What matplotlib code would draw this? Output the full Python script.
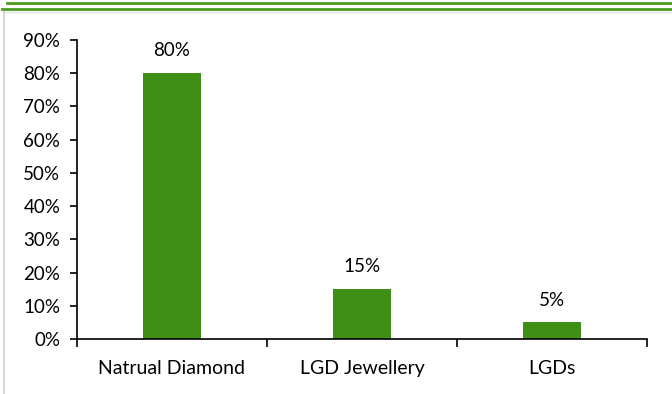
import matplotlib.pyplot as plt
from matplotlib.lines import Line2D
from matplotlib.ticker import FuncFormatter, FixedLocator

categories = ["Natrual Diamond", "LGD Jewellery", "LGDs"]
shares = [80, 15, 5]  # percent

green = "#3f8f17"
plt.rcParams['font.family'] = ['Lato', 'DejaVu Sans']

fig = plt.figure(figsize=(6.72, 3.94), dpi=100)
ax = fig.add_axes([77/672, 55/394, 570/672, 299/394])

x = range(len(categories))
bars = ax.bar(x, shares, width=0.31, color=green, zorder=2)
for b, v in zip(bars, shares):
    ax.annotate(f"{v}%", (b.get_x() + b.get_width()/2, v), xytext=(0, 10),
                textcoords="offset points", ha="center", va="bottom", fontsize=13.5)

ax.set_xlim(-0.5, len(categories) - 0.5)
ax.set_ylim(0, 90)
ax.set_yticks(range(0, 91, 10))
ax.yaxis.set_major_formatter(FuncFormatter(lambda v, p: f"{v:.0f}%"))
ax.set_xticks(list(x))
ax.set_xticklabels(categories)
ax.xaxis.set_minor_locator(FixedLocator([-0.5, 0.5, 1.5, 2.5]))
ax.tick_params(axis="x", which="major", length=0, pad=15, labelsize=14)
ax.tick_params(axis="x", which="minor", length=6, width=1.2, direction="out")
ax.tick_params(axis="y", length=5, width=1.2, labelsize=13.5, pad=7)
for s in ("top", "right"):
    ax.spines[s].set_visible(False)
for s in ("left", "bottom"):
    ax.spines[s].set_linewidth(1.2)

# header rules and light frame
fig.add_artist(Line2D([7/672, 1], [1 - 2.5/394] * 2, color="#4a9a1e", lw=2))
fig.add_artist(Line2D([2/672, 1], [1 - 8.5/394] * 2, color="#4a9a1e", lw=2))
fig.add_artist(Line2D([3/672, 1], [1 - 12/394] * 2, color="#e0e0e0", lw=1))
fig.add_artist(Line2D([3.5/672] * 2, [0, 1 - 12/394], color="#d8d8d8", lw=1.5))

fig.savefig("out.png", dpi=100)
